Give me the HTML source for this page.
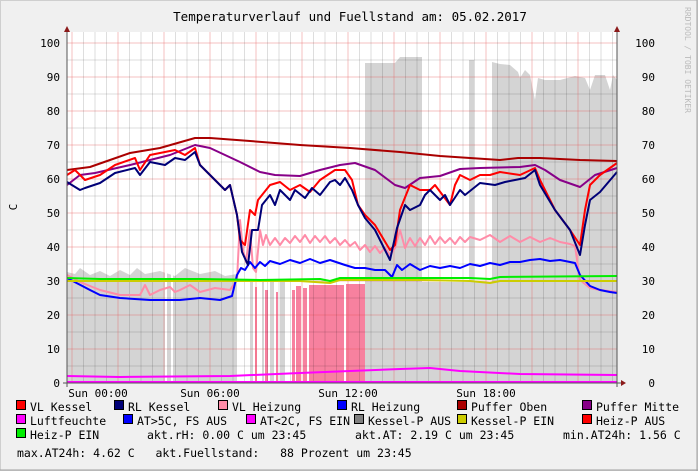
<!DOCTYPE html>
<html><head><meta charset="utf-8"><style>
html,body{margin:0;padding:0;background:#f0f0f0}
svg{display:block}
text{font-family:"DejaVu Sans Mono","Liberation Mono",monospace;fill:#000}
</style></head><body>
<svg id="s" width="698" height="471" viewBox="0 0 698 471" xmlns="http://www.w3.org/2000/svg">
<rect x="0" y="0" width="698" height="471" fill="#f0f0f0"/>
<rect x="0.5" y="0.5" width="697" height="470" fill="none" stroke="#cfcfcf" stroke-width="1"/>
<line x1="0" y1="470" x2="698" y2="470" stroke="#a0a0a0"/><line x1="697" y1="0" x2="697" y2="471" stroke="#a0a0a0"/>
<rect x="67" y="32" width="550" height="351" fill="#fff"/>
<g id="area">
<polygon fill="#d4d4d4" points="67,383 67,272 75,274 80,268 90,275 100,271 110,276 120,270 130,275 137,268 145,274 160,271 175,276 185,268 200,274 215,271 225,276 237,274 237,383"/>
<polygon fill="#d4d4d4" points="365,383 365,63 395,63 400,57 422,57 422,383"/>
<polygon fill="#d4d4d4" points="469,383 469,60 474,60 474,383"/>
<polygon fill="#d4d4d4" points="492,383 492,62 500,64 510,65 518,72 520,78 525,70 530,75 535,100 538,78 545,80 560,80 575,76 585,78 590,90 595,75 605,75 610,90 613,75 617,80 617,383"/>
<polygon fill="#d4d4d4" points="422,383 422,282 469,282 469,383"/>
<polygon fill="#d4d4d4" points="474,383 474,282 492,282 492,383"/>
<g fill="#d4d4d4"><rect x="250" y="280" width="3" height="103"/><rect x="262" y="282" width="2" height="101"/><rect x="270" y="282" width="4" height="101"/><rect x="280" y="282" width="5" height="101"/></g>
<g fill="#f7819f"><rect x="255" y="287" width="2" height="96"/><rect x="265" y="290" width="3" height="93"/><rect x="276" y="292" width="2" height="91"/><rect x="292" y="290" width="3" height="93"/><rect x="296" y="286" width="5" height="97"/><rect x="303" y="288" width="4" height="95"/><rect x="309" y="285" width="35" height="98"/><rect x="346" y="284" width="19" height="99"/></g>
<g fill="#fff"><rect x="165" y="270" width="2" height="113"/><rect x="171" y="270" width="2" height="113"/><rect x="240" y="280" width="2" height="103"/><rect x="344" y="285" width="2" height="98"/></g>
</g>
<g id="grid"></g>
<g fill="none" stroke-width="2" stroke-linejoin="round">
<polyline stroke="#ff8ca8" points="67,275 80,282 100,290 120,295 140,295 145,285 150,295 160,290 170,287 175,292 180,290 190,285 200,292 215,288 230,290 237,280 240,220 243,250 246,262 250,230 253,268 256,272 260,230 263,245 266,235 270,245 275,238 280,245 285,238 290,243 295,236 300,242 305,235 310,243 315,236 320,242 325,236 330,243 335,238 340,245 345,240 350,246 355,242 360,250 365,245 370,252 375,246 380,253 385,248 390,255 395,248 400,230 405,248 410,238 415,246 420,238 425,245 430,236 435,244 440,237 445,243 450,238 455,244 460,237 465,242 470,237 480,240 490,235 500,242 510,236 520,242 530,237 540,242 550,238 560,242 570,244 575,246 580,280 590,288 600,290 617,292"/>
<polyline stroke="#0000ff" points="67,278 90,290 100,295 120,298 150,300 180,300 200,298 220,300 232,296 237,275 241,268 245,270 250,262 255,268 260,262 265,266 270,261 280,264 290,260 300,263 310,259 320,263 330,260 345,265 355,268 365,268 375,270 385,270 392,277 397,265 402,270 410,264 420,270 430,266 440,268 450,266 460,268 470,264 480,266 490,263 500,265 510,262 520,262 530,260 540,259 550,261 560,260 570,262 575,263 580,275 590,286 600,290 610,292 617,293"/>
<polyline stroke="#cccc00" points="67,281 200,281 300,281 330,283 340,280 420,280 470,281 490,283 500,281 617,281"/>
<polyline stroke="#00ee00" points="67,278 100,279 200,279 260,280 320,279 330,281 340,278 420,278 470,278 490,279 500,277 617,276"/>
<polyline stroke="#aa0000" points="67,170 90,167 110,160 130,153 160,148 195,138 210,138 250,141 300,145 350,148 400,152 440,156 470,158 500,160 518,158 540,158 580,160 617,161"/>
<polyline stroke="#880088" points="67,185 80,175 95,173 130,165 170,155 195,145 210,148 240,162 260,172 275,175 300,176 320,170 340,165 355,163 375,170 395,185 405,188 420,178 440,176 460,169 480,168 520,167 535,165 545,170 560,180 580,187 595,175 617,168"/>
<polyline stroke="#ff0000" points="67,175 75,170 85,180 100,175 115,165 135,158 140,170 150,155 175,150 185,155 195,148 200,165 210,175 225,190 230,185 237,215 240,240 245,245 250,210 255,215 258,200 270,185 280,182 290,190 300,185 310,192 320,180 335,170 345,170 352,180 358,205 365,215 375,225 390,250 395,245 400,210 410,185 420,190 430,190 435,185 450,205 455,185 460,175 470,180 480,175 490,175 500,172 520,175 535,168 540,180 555,210 570,230 580,245 585,210 590,185 600,175 617,163"/>
<polyline stroke="#000077" points="67,182 80,190 85,188 100,183 115,173 135,168 140,175 150,162 165,165 175,158 185,160 195,152 200,165 210,175 225,190 230,185 237,215 242,252 248,265 252,230 258,230 262,205 270,195 275,205 280,190 290,200 295,190 305,198 312,188 320,195 330,182 335,180 340,185 345,178 352,190 358,205 365,218 375,230 385,250 390,260 397,228 405,205 410,210 420,205 425,195 430,190 440,200 445,195 450,205 460,190 465,195 480,183 495,185 505,182 515,180 525,178 535,170 540,185 555,210 570,230 580,255 585,225 590,200 600,192 617,172"/>
<polyline stroke="#ff00ff" points="67,376 120,377 230,376 300,373 350,371 400,369 430,368 460,371 520,374 617,375"/>
<line x1="67" y1="382" x2="617" y2="382" stroke="#ff00ff"/>
</g>
<line x1="67" y1="28" x2="67" y2="387" stroke="#555"/>
<line x1="617" y1="28" x2="617" y2="387" stroke="#555"/>
<line x1="63" y1="383" x2="621" y2="383" stroke="#555"/>
<polygon points="64,32 70,32 67,26" fill="#8b1a1a"/>
<polygon points="614,32 620,32 617,26" fill="#8b1a1a"/>
<polygon points="621,380 621,386 626,383" fill="#8b1a1a"/>
<g id="lab" font-size="11"></g>
<text x="350" y="21" font-size="12.5" text-anchor="middle">Temperaturverlauf und Fuellstand am: 05.02.2017</text>
<text transform="translate(17,207) rotate(-90)" font-size="11" text-anchor="middle">C</text>
<text transform="translate(685,7) rotate(90)" font-size="8" fill="#c0c0c0" style="fill:#bbb">RRDTOOL / TOBI OETIKER</text>
<g font-size="11">
<text x="98" y="397" text-anchor="middle">Sun 00:00</text>
<text x="210" y="397" text-anchor="middle">Sun 06:00</text>
<text x="348" y="397" text-anchor="middle">Sun 12:00</text>
<text x="486" y="397" text-anchor="middle">Sun 18:00</text>
</g>
<g id="leg" font-size="11.5"></g>
</svg>
<script>
var NS="http://www.w3.org/2000/svg",g=document.getElementById('grid'),s='';
for(var v=5;v<=100;v+=5){var y=383-3.4*v;s+='<line x1="67" x2="617" y1="'+y+'" y2="'+y+'" stroke="'+(v%10?'rgba(0,0,0,0.13)':'rgba(230,80,80,0.35)')+'"/>';}
for(var i=0;;i++){var x=72+i*11.5;if(x>617)break;s+='<line y1="32" y2="383" x1="'+x+'" x2="'+x+'" stroke="'+(i%4?'rgba(0,0,0,0.13)':'rgba(230,80,80,0.35)')+'"/>';}
g.innerHTML=s;
var l='';for(var v=0;v<=100;v+=10){var y=383-3.4*v+4;l+='<text x="60" y="'+y+'" text-anchor="end">'+v+'</text><text x="655" y="'+y+'" text-anchor="end">'+v+'</text>';}
document.getElementById('lab').innerHTML=l;
var L=[[17,411,'#ff0000','VL Kessel'],[115,411,'#000077','RL Kessel'],[219,411,'#ff8ca8','VL Heizung'],[338,411,'#0000ff','RL Heizung'],[458,411,'#aa0000','Puffer Oben'],[583,411,'#880088','Puffer Mitte'],
[17,425,'#ff00ff','Luftfeuchte'],[124,425,'#0000ff','AT>5C, FS AUS'],[247,425,'#ff00ff','AT<2C, FS EIN'],[355,425,'#808080','Kessel-P AUS'],[458,425,'#cccc00','Kessel-P EIN'],[583,425,'#ff0000','Heiz-P AUS'],[17,439,'#00ee00','Heiz-P EIN']];
var h='';L.forEach(function(a){h+='<rect x="'+(a[0]-0.5)+'" y="'+(a[1]-10.5)+'" width="9" height="9" fill="'+a[2]+'" stroke="#000"/><text x="'+(a[0]+13)+'" y="'+a[1]+'">'+a[3].replace('<','&lt;').replace('>','&gt;')+'</text>';});
h+='<text x="147" y="439" xml:space="preserve">akt.rH: 0.00 C um 23:45</text><text x="355" y="439">akt.AT: 2.19 C um 23:45</text><text x="563" y="439">min.AT24h: 1.56 C</text>';
h+='<text x="17" y="457" xml:space="preserve">max.AT24h: 4.62 C   akt.Fuellstand:   88 Prozent um 23:45</text>';
document.getElementById('leg').innerHTML=h;
</script>
</body></html>
